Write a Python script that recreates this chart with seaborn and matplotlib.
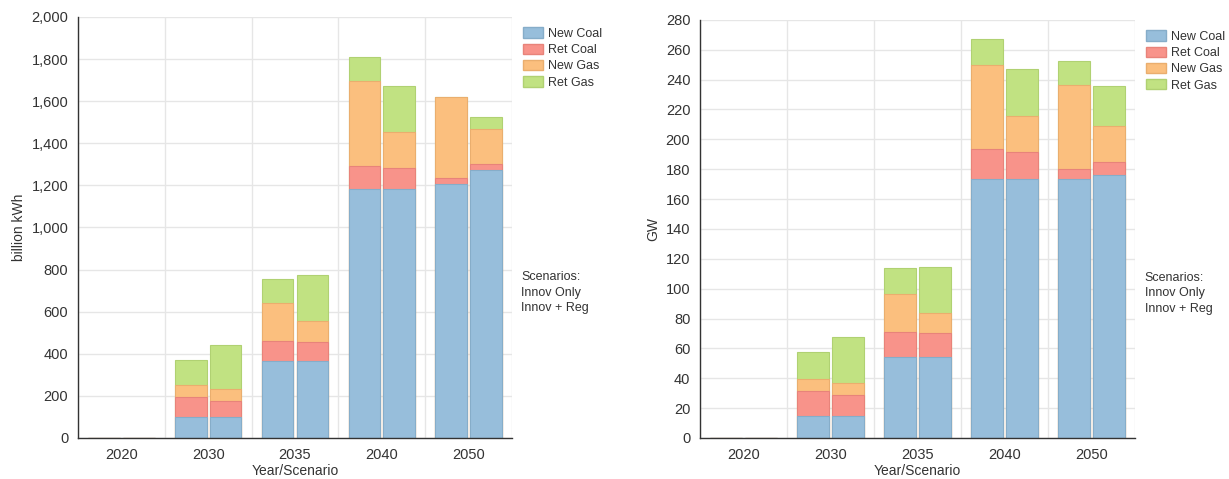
import numpy as np
import pandas as pd
import matplotlib
matplotlib.use("Agg")
import matplotlib.pyplot as plt
import matplotlib.ticker as mticker
from matplotlib.patches import Patch
import seaborn as sns

years = ["2020", "2030", "2035", "2040", "2050"]
scenarios = ["Innov Only", "Innov + Reg"]
series = ["New Coal", "Ret Coal", "New Gas", "Ret Gas"]
colors = ["#97bedb", "#f8938a", "#fbbf7e", "#c1e282"]
edges = ["#86adc9", "#e8837a", "#eaae6e", "#b0d172"]

# billion kWh, per year: [Innov Only, Innov + Reg]
kwh_new_coal = [[0, 0], [100, 100], [367, 367], [1181, 1181], [1205, 1273]]
kwh_ret_coal = [[0, 0], [95, 74], [96, 88], [112, 100], [31, 30]]
kwh_new_gas = [[0, 0], [57, 58], [176, 101], [403, 174], [385, 164]]
kwh_ret_gas = [[0, 0], [118, 209], [118, 217], [116, 216], [0, 56]]

# GW
gw_new_coal = [[0, 0], [15, 15], [54.2, 54.2], [173.3, 173.3], [173.3, 176]]
gw_ret_coal = [[0, 0], [16.6, 13.5], [17.1, 16.2], [20.1, 18.4], [7.1, 8.6]]
gw_new_gas = [[0, 0], [8.2, 8.2], [25, 13], [56.5, 24.1], [56.2, 24.1]]
gw_ret_gas = [[0, 0], [17.5, 30.8], [17.5, 31.3], [17.5, 31.4], [15.9, 27.3]]


def make_frame(layers):
    rows = []
    for s, vals in zip(series, layers):
        for y, pair in zip(years, vals):
            for sc, v in zip(scenarios, pair):
                rows.append({"year": y, "scenario": sc, "series": s, "value": v})
    df = pd.DataFrame(rows)
    df["series"] = pd.Categorical(df["series"], series, ordered=True)
    df = df.sort_values(["year", "scenario", "series"])
    df["cum"] = df.groupby(["year", "scenario"])["value"].cumsum()
    return df


sns.set_style("white")
plt.rcParams["font.family"] = ["Liberation Sans", "DejaVu Sans"]

fig = plt.figure(figsize=(12.29, 4.79), dpi=100)
ax1 = fig.add_axes([0.0635, 0.0856, 0.353, 0.879])
ax2 = fig.add_axes([0.5696, 0.0856, 0.354, 0.873])


def draw(ax, df, ylabel, ymax, step):
    # draw cumulative totals from the top layer down so lower layers cover them
    for s, c, e in reversed(list(zip(series, colors, edges))):
        sub = df[df["series"] == s]
        sns.barplot(data=sub, x="year", y="cum", hue="scenario", order=years,
                    hue_order=scenarios, palette=[c, c], width=0.8, gap=0.09,
                    edgecolor=e, linewidth=0.8, legend=False, ax=ax,
                    errorbar=None, saturation=1)
    ax.set_xlim(-0.5, len(years) - 0.5)
    ax.set_ylim(0, ymax)
    ax.yaxis.set_major_locator(mticker.MultipleLocator(step))
    ax.yaxis.set_major_formatter(mticker.FuncFormatter(lambda v, p: f"{v:,.0f}"))
    ax.set_xticks(np.arange(-0.5, len(years)), minor=True)
    ax.tick_params(axis="x", which="major", length=0, labelsize=10.5, colors="#333333", pad=7)
    ax.tick_params(axis="x", which="minor", length=5, width=1, color="#333333")
    ax.tick_params(axis="y", length=5, width=1, color="#333333", labelsize=10.5,
                   labelcolor="#333333", pad=2)
    ax.set_axisbelow(True)
    ax.grid(axis="y", which="major", color="#e6e6e6", linewidth=1)
    ax.grid(axis="x", which="minor", color="#e6e6e6", linewidth=1)
    for sp in ["top", "right"]:
        ax.spines[sp].set_visible(False)
    for sp in ["left", "bottom"]:
        ax.spines[sp].set_color("#333333")
        ax.spines[sp].set_linewidth(1)
    ax.set_xlabel("Year/Scenario", fontsize=10, color="#333333", labelpad=2)
    ax.set_ylabel(ylabel, fontsize=10, color="#333333")

    handles = [Patch(facecolor=c, edgecolor=e, label=s) for s, c, e in zip(series, colors, edges)]
    ax.legend(handles=handles, loc="upper left", bbox_to_anchor=(1.025, 0.975), frameon=False,
              fontsize=9, handlelength=1.6, handleheight=0.9, handletextpad=0.4,
              labelspacing=0.3, borderaxespad=0, borderpad=0, labelcolor="#333333")
    ax.text(1.022, 0.295, "Scenarios:\nInnov Only\nInnov + Reg", transform=ax.transAxes,
            fontsize=9, color="#333333", va="bottom", ha="left", linespacing=1.35)


draw(ax1, make_frame([kwh_new_coal, kwh_ret_coal, kwh_new_gas, kwh_ret_gas]),
     "billion kWh", 2000, 200)
draw(ax2, make_frame([gw_new_coal, gw_ret_coal, gw_new_gas, gw_ret_gas]),
     "GW", 280, 20)

fig.savefig("out.png", dpi=100)
